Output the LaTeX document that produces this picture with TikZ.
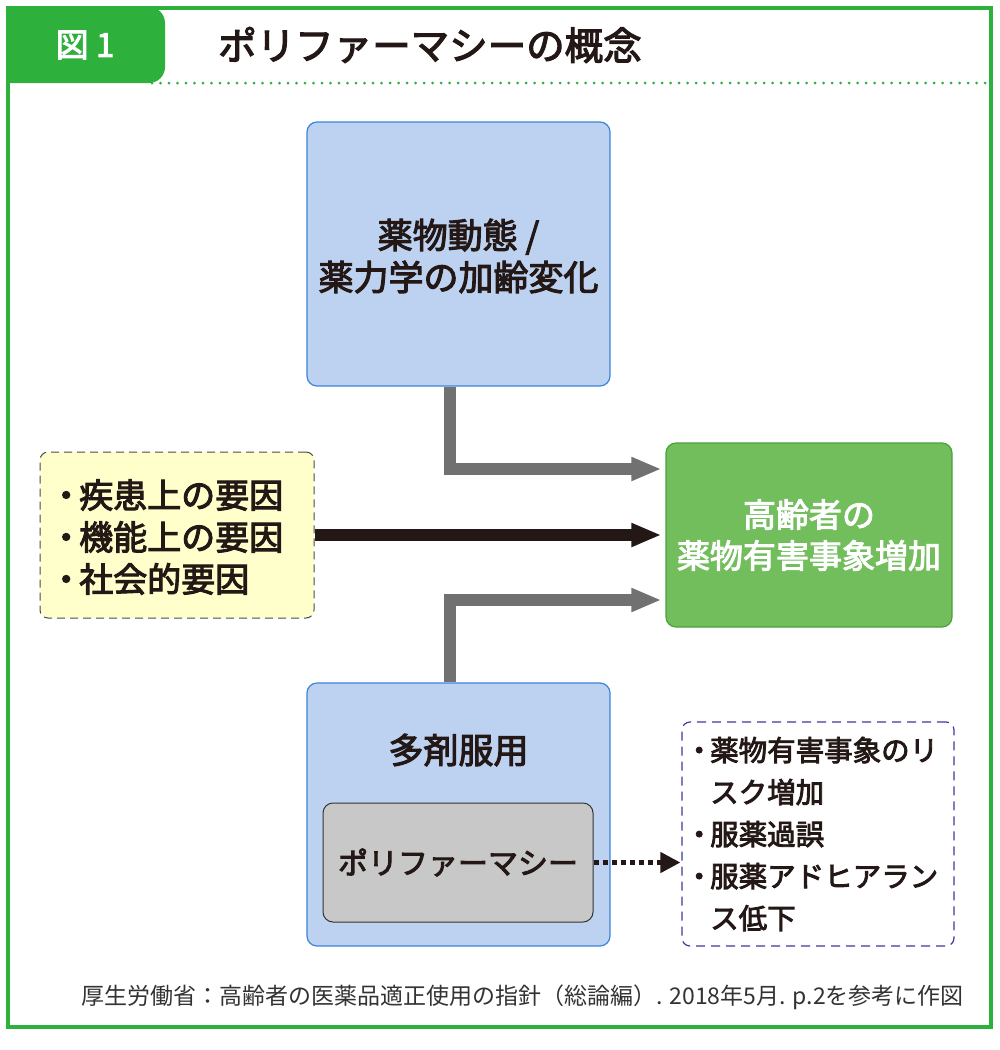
\documentclass[tikz,border=0pt]{standalone}
\usepackage{fontspec}
\setmainfont{Noto Sans CJK JP}
\newfontfamily\mjp{Noto Sans CJK JP}[FakeBold=3]
\usetikzlibrary{arrows.meta,calc}
\definecolor{frameg}{HTML}{2DB03C}
\definecolor{bluefill}{HTML}{BDD2F0}
\definecolor{blueline}{HTML}{3C85D8}
\definecolor{greenfill}{HTML}{72BE5C}
\definecolor{greenline}{HTML}{4AA23A}
\definecolor{yelfill}{HTML}{FFFFCC}
\definecolor{yelline}{HTML}{4A4A4A}
\definecolor{grayfill}{HTML}{C8C8C8}
\definecolor{grayline}{HTML}{333333}
\definecolor{purpline}{HTML}{3E3A9E}
\definecolor{arrgray}{HTML}{717171}
\definecolor{inkblack}{HTML}{231815}
\newcommand{\bul}[1]{\makebox[#1][c]{・}}
\begin{document}
\begin{tikzpicture}[x=1pt,y=-1pt,
  bluebox/.style={draw=blueline,line width=1.2pt,fill=bluefill,rounded corners=10pt,inner sep=0pt},
  txt/.style={text=inkblack,font=\mjp\fontsize{35}{42}\selectfont,align=center,inner sep=0pt},
  grayarrow/.style={draw=arrgray,line width=12pt,-{Triangle[length=30pt,width=22pt]},shorten >=4pt},
  blackarrow/.style={draw=inkblack,line width=12pt,-{Triangle[length=30pt,width=22pt]},shorten >=4pt},
  dotarrow/.style={draw=inkblack,line width=4.5pt,dash pattern=on 5pt off 4pt,-{Triangle[length=20pt,width=20pt]},shorten >=1pt}
]
\useasboundingbox (0,0) rectangle (1000,1050);
\fill[white] (0,0) rectangle (1000,1050);
% header tab
\fill[frameg] (7,7) [rounded corners=16pt] -- (165,7) -- (165,83) [sharp corners] -- (7,83) -- cycle;
\draw[frameg,line width=3pt,line cap=round,dash pattern=on 0pt off 8.5pt] (152,83) -- (990,83);
\draw[frameg,line width=3.5pt] (8,8) rectangle (991,1027);
\node[text=white,font=\mjp\fontsize{33}{36}\selectfont] (fig) at (85,45) {図 1};
\node[anchor=west,text=inkblack,font=\mjp\fontsize{38.5}{40}\selectfont,inner sep=0pt] (title) at (218,45) {ポリファーマシーの概念};

% boxes
\node[bluebox,minimum width=303pt,minimum height=264pt] (pk) at (458.5,254) {};
\node[txt] (pktext) at (458.5,256) {薬物動態 /\\薬力学の加齢変化};

\node[draw=greenline,line width=1.2pt,fill=greenfill,rounded corners=10pt,minimum width=286pt,minimum height=184pt,text=white,font=\mjp\fontsize{33}{41}\selectfont,align=center] (ade) at (809,535) {高齢者の\\薬物有害事象増加};

\node[draw=yelline,line width=1pt,dash pattern=on 8pt off 5pt,fill=yelfill,rounded corners=8pt,minimum width=274pt,minimum height=166pt] (factors) at (177,535) {};
\node[anchor=west,text=inkblack,font=\mjp\fontsize{34}{42}\selectfont,align=left,inner sep=0pt] (factext) at (53,537) {\bul{26pt}疾患上の要因\\\bul{26pt}機能上の要因\\\bul{26pt}社会的要因};

\node[bluebox,minimum width=303pt,minimum height=263pt] (multi) at (458.5,814.5) {};
\node[txt] (multitext) at (458.5,750) {多剤服用};
\node[draw=grayline,line width=1pt,fill=grayfill,rounded corners=10pt,minimum width=270pt,minimum height=119pt,text=inkblack,font=\mjp\fontsize{30}{36}\selectfont] (poly) at (458,862.5) {ポリファーマシー};

\node[draw=purpline,line width=1.2pt,dash pattern=on 9pt off 6pt,rounded corners=8pt,minimum width=272pt,minimum height=224pt] (risk) at (818,834) {};
\node[anchor=west,text=inkblack,font=\mjp\fontsize{28.5}{42}\selectfont,align=left,inner sep=0pt] (risktext) at (688,834) {\bul{22pt}薬物有害事象のリ\\\hspace*{22pt}スク増加\\\bul{22pt}服薬過誤\\\bul{22pt}服薬アドヒアラン\\\hspace*{22pt}ス低下};

\node[anchor=east,text=grayline,font=\fontsize{23}{26}\selectfont,inner sep=0pt] (src) at (964,997) {厚生労働省：高齢者の医薬品適正使用の指針（総論編）. 2018年5月. p.2を参考に作図};

% arrows
\draw[grayarrow] ([xshift=-8.5pt]pk.south) |- ([yshift=66pt]ade.west);
\draw[blackarrow] (factors.east) -- (ade.west);
\draw[grayarrow] ([xshift=-8.5pt]multi.north) |- ([yshift=-65pt]ade.west);
\draw[dotarrow] (poly.east) -- (poly.east -| risk.west);
\end{tikzpicture}
\end{document}
